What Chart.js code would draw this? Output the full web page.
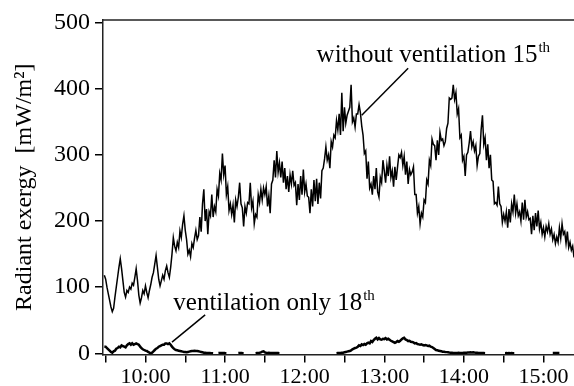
<!DOCTYPE html>
<html>
<head>
<meta charset="utf-8">
<script src="https://cdn.jsdelivr.net/npm/chart.js@4.4.0/dist/chart.umd.min.js"></script>
<style>
  html, body { margin: 0; padding: 0; background: #fff; }
</style>
</head>
<body>
<canvas id="exergyChart" width="574" height="386"></canvas>
<script>
// one reading per minute, first one at 9:29 (minutes after midnight)
const startMinute = 569;

// radiant exergy [mW/m2], without ventilation, 15th
const withoutVent15 = [
  118,112,100,90,80,70,63,68,85,100,
  115,130,143,128,110,92,85,95,92,100,
  97,106,103,115,128,110,88,76,84,95,
  90,102,92,84,95,104,115,122,135,148,
  130,112,102,110,118,112,125,132,122,115,
  130,150,175,162,155,168,160,185,175,195,
  208,186,172,150,156,146,166,160,174,186,172,
  178,206,184,226,248,200,218,180,214,208,
  240,206,222,214,248,238,272,262,302,270,
  284,240,252,216,226,210,224,198,232,222,
  236,258,226,220,192,222,212,228,226,258,
  220,230,196,210,206,240,228,248,232,250,
  240,252,222,238,212,256,262,292,266,306,
  274,288,266,290,258,280,248,268,244,270,
  256,276,254,258,224,256,232,268,240,278,
  244,256,238,236,212,248,222,262,230,264,
  226,258,234,276,280,294,312,292,300,280,
  320,312,330,326,352,338,362,330,394,336,
  372,348,360,366,372,406,350,356,342,362,
  362,376,364,344,330,302,306,264,290,250,
  256,240,268,248,280,244,236,266,258,292,
  276,258,284,268,298,266,276,252,282,262,
  282,300,296,304,284,298,270,290,256,278,
  270,274,282,240,240,212,222,196,212,206,
  232,228,262,256,292,284,324,316,314,292,
  322,300,334,322,324,314,320,340,348,386,
  384,386,406,384,394,362,370,326,330,292,
  298,268,300,304,318,336,312,320,306,314,
  284,298,302,338,360,316,326,292,316,280,
  300,262,260,226,228,224,252,226,222,198,
  210,200,214,190,218,198,226,214,240,212,
  226,208,214,200,228,202,232,206,214,202,
  204,180,208,186,212,192,216,188,198,180,
  190,176,192,184,196,180,188,172,180,166,
  176,168,190,174,196,180,184,166,184,160,
  168,156,162,145
];

// radiant exergy [mW/m2], ventilation only, 18th (null = no reading drawn)
const ventOnly18 = [
  10,10,8,6,4,2,1,3,4,7,
  8,10,9,12,11,10,9,12,14,15,
  13,15,13,14,15,14,13,10,8,6,
  5,4,3.5,2,1,0,1,3,5,7,
  8,10,11,12,13,13,15,15,14,15,
  13,10,8,6,5,4.5,4,3.5,3,2.5,
  2,2,1.5,2,2.5,3,3.5,3.5,4,3.5,
  3.5,3,2.5,2,1.5,1,1,0.5,0.5,0.5,
  0.3,0.2,0,null,null,null,0.3,0.5,0.5,0.3,
  0.5,0.3,0.2,null,null,null,null,null,null,null,
  null,0.3,0.5,0.5,0.3,0.2,null,null,null,null,
  null,null,null,null,0.2,0.5,0.5,0.8,1.5,2.5,
  3,1.5,0.8,0.5,0.8,0.5,0.5,0.3,0.5,0.5,
  0.3,0.3,0.2,null,null,null,null,null,null,null,
  null,null,null,null,null,null,null,null,null,null,
  null,null,null,null,null,null,null,null,null,null,
  null,null,null,null,null,null,null,null,null,null,
  null,null,null,null,null,0,0.3,0.5,0.5,0.8,
  1,1.5,2,2.5,3,3.5,4.5,6,7,8,
  8.5,10,12,11,13.5,12.5,14,13,15,16,
  15,18.5,17,20,22,23.5,21,23,21,20.5,
  22,21.5,23,21,22,20.5,19,18,17,16,
  17,18.5,17.5,19,21,22.5,23.5,21,20,18.5,
  19,17.5,17,16.5,15,15.5,14,13.5,13,13.5,
  12.5,12,12.5,12,11,11.5,10,9.5,8,6.5,
  5,4.5,4,3.5,3,2.5,2.3,2,1.8,1.5,
  1.2,1,0.8,0.5,0.5,0.6,0.5,0.7,0.5,0.6,
  0.5,0.7,0.8,1,1.2,1.3,1.5,1.4,1.5,1.2,
  1,0.8,0.6,0.5,0.4,0.3,0.3,0.2,null,null,
  null,null,null,null,null,null,null,null,null,null,
  null,null,0.2,0.3,0.2,0.3,0.2,0.3,0.2,0.2,
  null,null,null,null,null,null,null,null,null,null,
  null,null,null,null,null,null,null,null,null,null,
  null,null,null,null,null,null,null,null,0.5,0.5,
  0.5,0.6,0.5,0.5,null,null,null,null,null,null,
  null,null,null,null,null
];

// x ticks every half hour, labels on the full hours
const timeTicks = [570, 600, 630, 660, 690, 720, 750, 780, 810, 840, 870, 900];
const yTicks = [0, 100, 200, 300, 400, 500];

// text labels with leader lines, in data units (minutes, mW/m2)
const notes = [
  { text: 'without ventilation 15', sup: 'th', x: 729, y: 441, lineFrom: [798, 431], lineTo: [763, 360] },
  { text: 'ventilation only 18', sup: 'th', x: 621, y: 65, lineFrom: [645, 58], lineTo: [620, 17] }
];

const serif = "'Liberation Serif', 'Times New Roman', serif";
Chart.defaults.font.family = serif;
Chart.defaults.color = '#000';

const toPoints = arr => arr.map((v, i) => ({ x: startMinute + i, y: v }));

// draws the top frame line and the two annotations
const notesPlugin = {
  id: 'notes',
  afterDatasetsDraw(chart) {
    const { ctx, chartArea, scales: { x, y } } = chart;
    ctx.save();
    ctx.strokeStyle = '#222';
    ctx.lineWidth = 1.5;
    ctx.beginPath();
    ctx.moveTo(chartArea.left, chartArea.top);
    ctx.lineTo(chartArea.right, chartArea.top);
    ctx.stroke();

    notes.forEach(n => {
      ctx.strokeStyle = '#000';
      ctx.lineWidth = 1.5;
      ctx.beginPath();
      ctx.moveTo(x.getPixelForValue(n.lineFrom[0]), y.getPixelForValue(n.lineFrom[1]));
      ctx.lineTo(x.getPixelForValue(n.lineTo[0]), y.getPixelForValue(n.lineTo[1]));
      ctx.stroke();

      const px = x.getPixelForValue(n.x);
      const py = y.getPixelForValue(n.y);
      ctx.fillStyle = '#000';
      ctx.textBaseline = 'alphabetic';
      ctx.textAlign = 'left';
      ctx.font = '25px ' + serif;
      ctx.fillText(n.text, px, py);
      const w = ctx.measureText(n.text).width;
      ctx.font = '15px ' + serif;
      ctx.fillText(n.sup, px + w + 1, py - 10);
    });
    ctx.restore();
  }
};

new Chart(document.getElementById('exergyChart'), {
  type: 'line',
  data: {
    datasets: [
      {
        label: 'without ventilation 15th',
        data: toPoints(withoutVent15),
        borderColor: '#000',
        borderWidth: 1.5,
        pointRadius: 0,
        tension: 0
      },
      {
        label: 'ventilation only 18th',
        data: toPoints(ventOnly18),
        borderColor: '#000',
        borderWidth: 2.5,
        pointRadius: 0,
        tension: 0,
        spanGaps: false
      }
    ]
  },
  options: {
    responsive: false,
    animation: false,
    layout: { padding: { top: 20, right: 0, bottom: 0, left: 0 } },
    plugins: {
      legend: { display: false },
      tooltip: { enabled: false }
    },
    scales: {
      x: {
        type: 'linear',
        min: 568,
        max: 923,
        afterBuildTicks: s => { s.ticks = timeTicks.map(v => ({ value: v })); },
        afterFit: s => { s.height = 31.5; },
        ticks: {
          autoSkip: false,
          maxRotation: 0,
          padding: 2,
          font: { size: 22 },
          callback: v => (v % 60 === 0 ? (v / 60) + ':00' : '')
        },
        grid: { drawOnChartArea: false, drawTicks: true, tickLength: 8, color: '#000', lineWidth: 1.5 },
        border: { display: true, color: '#222', width: 1.5 }
      },
      y: {
        min: -1.8,
        max: 504,
        afterBuildTicks: s => { s.ticks = yTicks.map(v => ({ value: v })); },
        afterFit: s => { s.width = 103; },
        ticks: { padding: 5, font: { size: 24 } },
        grid: { drawOnChartArea: false, drawTicks: true, tickLength: 8, color: '#000', lineWidth: 1.5 },
        border: { display: true, color: '#222', width: 1.5 },
        title: {
          display: true,
          text: 'Radiant exergy  [mW/m\u00b2]',
          font: { size: 24 },
          padding: { top: 10, bottom: 0 }
        }
      }
    }
  },
  plugins: [notesPlugin]
});
</script>
</body>
</html>
